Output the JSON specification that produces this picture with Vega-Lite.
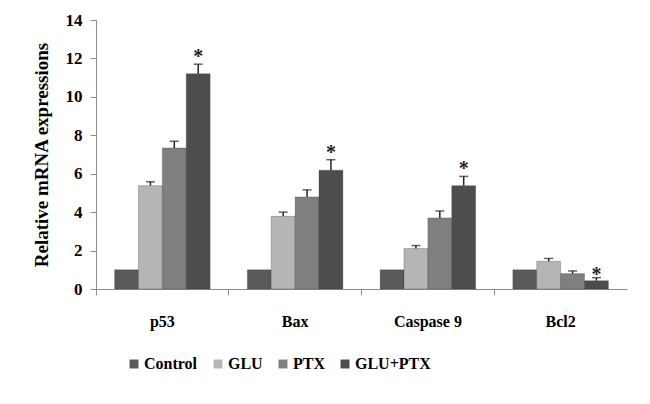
{
  "$schema": "https://vega.github.io/schema/vega-lite/v6.json",
  "autosize": "none",
  "width": 531,
  "height": 269,
  "padding": {"left": 96, "top": 20, "right": 23, "bottom": 115},
  "background": "white",
  "data": {"values": [
    {"gene": "p53", "group": "Control", "value": 1, "err": 0, "star": null},
    {"gene": "p53", "group": "GLU", "value": 5.38, "err": 0.2, "star": null},
    {"gene": "p53", "group": "PTX", "value": 7.34, "err": 0.35, "star": null},
    {"gene": "p53", "group": "GLU+PTX", "value": 11.2, "err": 0.5, "star": 12.3},
    {"gene": "Bax", "group": "Control", "value": 1, "err": 0, "star": null},
    {"gene": "Bax", "group": "GLU", "value": 3.78, "err": 0.22, "star": null},
    {"gene": "Bax", "group": "PTX", "value": 4.79, "err": 0.37, "star": null},
    {"gene": "Bax", "group": "GLU+PTX", "value": 6.18, "err": 0.55, "star": 7.3},
    {"gene": "Caspase 9", "group": "Control", "value": 1, "err": 0, "star": null},
    {"gene": "Caspase 9", "group": "GLU", "value": 2.11, "err": 0.15, "star": null},
    {"gene": "Caspase 9", "group": "PTX", "value": 3.7, "err": 0.36, "star": null},
    {"gene": "Caspase 9", "group": "GLU+PTX", "value": 5.38, "err": 0.48, "star": 6.45},
    {"gene": "Bcl2", "group": "Control", "value": 1, "err": 0, "star": null},
    {"gene": "Bcl2", "group": "GLU", "value": 1.44, "err": 0.15, "star": null},
    {"gene": "Bcl2", "group": "PTX", "value": 0.8, "err": 0.14, "star": null},
    {"gene": "Bcl2", "group": "GLU+PTX", "value": 0.43, "err": 0.16, "star": 0.95}
  ]},
  "transform": [{"calculate": "datum.value + datum.err", "as": "hi"}],
  "encoding": {
    "x": {
      "field": "gene", "type": "nominal", "sort": ["p53", "Bax", "Caspase 9", "Bcl2"],
      "scale": {"paddingInner": 0, "paddingOuter": 0},
      "axis": {
        "title": null, "labelAngle": 0, "bandPosition": 0,
        "labelFont": "Liberation Serif", "labelFontWeight": "bold", "labelFontSize": 16,
        "labelColor": "black", "labelPadding": 18,
        "domainColor": "#8c8c8c", "tickColor": "#8c8c8c", "tickSize": 6,
        "labelBound": false
      }
    },
    "xOffset": {
      "field": "group", "type": "nominal", "sort": ["Control", "GLU", "PTX", "GLU+PTX"],
      "scale": {"paddingInner": 0, "paddingOuter": 0.78}
    }
  },
  "layer": [
    {
      "mark": {"type": "bar", "stroke": "#3a3a3a", "strokeWidth": 0.5, "strokeOpacity": 0.6},
      "encoding": {
        "y": {
          "field": "value", "type": "quantitative",
          "scale": {"domain": [0, 14], "nice": false},
          "axis": {"title": "Relative mRNA expressions", "values": [0, 2, 4, 6, 8, 10, 12, 14]}
        },
        "color": {
          "field": "group", "type": "nominal", "sort": ["Control", "GLU", "PTX", "GLU+PTX"],
          "scale": {"domain": ["Control", "GLU", "PTX", "GLU+PTX"], "range": ["#5a5a5a", "#b5b5b5", "#7f7f7f", "#4d4d4d"]},
          "legend": {
            "title": null, "orient": "none", "direction": "horizontal", "legendX": 30, "legendY": 336,
            "symbolType": "square", "symbolSize": 80, "symbolStrokeWidth": 0,
            "labelFont": "Liberation Serif", "labelFontWeight": "bold", "labelFontSize": 16,
            "labelColor": "black", "columnPadding": 12, "labelOffset": 2
          }
        }
      }
    },
    {
      "transform": [{"filter": "datum.err > 0"}],
      "mark": {"type": "rule", "color": "#222", "strokeWidth": 1.5},
      "encoding": {
        "y": {"field": "value", "type": "quantitative", "axis": {"title": "Relative mRNA expressions", "values": [0, 2, 4, 6, 8, 10, 12, 14]}},
        "y2": {"field": "hi"}
      }
    },
    {
      "transform": [{"filter": "datum.err > 0"}],
      "mark": {"type": "tick", "color": "#222", "thickness": 1.5, "size": 9, "orient": "horizontal"},
      "encoding": {
        "y": {"field": "hi", "type": "quantitative", "axis": {"title": "Relative mRNA expressions", "values": [0, 2, 4, 6, 8, 10, 12, 14]}}
      }
    },
    {
      "transform": [{"filter": "datum.star != null"}],
      "mark": {"type": "text", "text": "*", "font": "Liberation Serif", "fontWeight": "bold", "fontSize": 20, "color": "#222", "baseline": "middle", "dy": 4},
      "encoding": {
        "y": {"field": "star", "type": "quantitative", "axis": {"title": "Relative mRNA expressions", "values": [0, 2, 4, 6, 8, 10, 12, 14]}}
      }
    }
  ],
  "config": {
    "view": {"stroke": null},
    "axisY": {
      "labelOverlap": false, "labelFlush": false,
      "grid": false, "titleFont": "Liberation Serif", "titleFontWeight": "bold",
      "titleFontSize": 19, "titleColor": "black", "titlePadding": 14,
      "labelFont": "Liberation Serif", "labelFontWeight": "bold", "labelFontSize": 17,
      "labelColor": "black", "labelPadding": 8,
      "domainColor": "#8c8c8c", "tickColor": "#8c8c8c", "tickSize": 6
    }
  }
}
